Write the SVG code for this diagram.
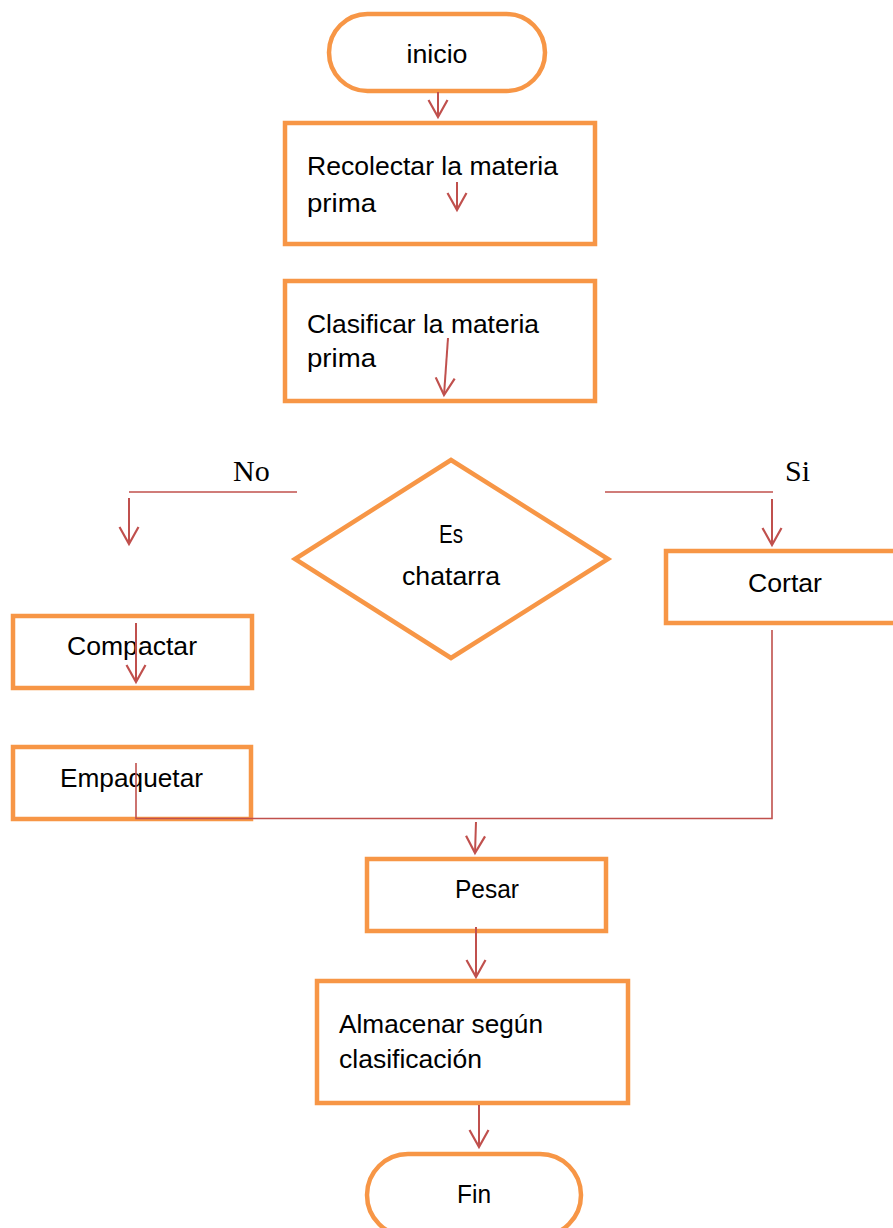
<svg xmlns="http://www.w3.org/2000/svg" width="893" height="1228" viewBox="0 0 893 1228">
<style>
.box{fill:#fff;stroke:#F79646;stroke-width:4.5}
.t{font-family:"Liberation Sans",Arial,sans-serif;font-size:26px;fill:#000}
.c{text-anchor:middle}
.s{font-family:"Liberation Serif","Times New Roman",serif;font-size:30px;fill:#000}
.ln{fill:none;stroke:#C0504D;stroke-width:2}
.hl{fill:none;stroke:#C0504D;stroke-width:1.6}
</style>
<defs>
<marker id="arr" markerUnits="userSpaceOnUse" viewBox="-20 -12 24 24" refX="0" refY="0" markerWidth="24" markerHeight="24" orient="auto">
<path d="M-17,-9.5 L0,0 L-17,9.5" fill="none" stroke="#C0504D" stroke-width="2.2"/>
</marker>
</defs>
<rect width="893" height="1228" fill="#fff"/>
<g id="inicio"><rect class="box" x="329" y="14" width="216" height="77" rx="38.5"/><text class="t c" x="437" y="63" textLength="61" lengthAdjust="spacingAndGlyphs">inicio</text></g>
<g id="recolectar"><rect class="box" x="285" y="123" width="310" height="121"/><text class="t" x="307" y="175" textLength="251" lengthAdjust="spacingAndGlyphs">Recolectar la materia</text><text class="t" x="307" y="212" textLength="69" lengthAdjust="spacingAndGlyphs">prima</text></g>
<g id="clasificar"><rect class="box" x="285" y="281" width="310" height="120"/><text class="t" x="307" y="333" textLength="232" lengthAdjust="spacingAndGlyphs">Clasificar la materia</text><text class="t" x="307" y="367" textLength="69" lengthAdjust="spacingAndGlyphs">prima</text></g>
<g id="decision"><polygon class="box" points="451,460 608,559 451,658 295,559"/><text class="t c" x="451" y="543" textLength="24" lengthAdjust="spacingAndGlyphs">Es</text><text class="t c" x="451" y="585" textLength="98" lengthAdjust="spacingAndGlyphs">chatarra</text></g>
<g id="compactar"><rect class="box" x="13" y="616" width="239" height="72"/><text class="t c" x="132" y="655" textLength="130" lengthAdjust="spacingAndGlyphs">Compactar</text></g>
<g id="empaquetar"><rect class="box" x="13" y="747" width="238" height="72"/><text class="t c" x="131.5" y="787" textLength="143" lengthAdjust="spacingAndGlyphs">Empaquetar</text></g>
<g id="cortar"><rect class="box" x="666" y="551" width="240" height="72"/><text class="t c" x="785" y="592" textLength="74" lengthAdjust="spacingAndGlyphs">Cortar</text></g>
<g id="pesar"><rect class="box" x="367" y="859" width="239" height="72"/><text class="t c" x="487" y="898" textLength="64" lengthAdjust="spacingAndGlyphs">Pesar</text></g>
<g id="almacenar"><rect class="box" x="317" y="981" width="311" height="122"/><text class="t" x="339" y="1033" textLength="204" lengthAdjust="spacingAndGlyphs">Almacenar según</text><text class="t" x="339" y="1068" textLength="143" lengthAdjust="spacingAndGlyphs">clasificación</text></g>
<g id="fin"><rect class="box" x="367" y="1154" width="214" height="82" rx="41"/><text class="t c" x="474" y="1203" textLength="34" lengthAdjust="spacingAndGlyphs">Fin</text></g>
<g id="labels"><text class="s" x="233" y="481">No</text><text class="s" x="785" y="481">Si</text></g>
<g id="connectors">
<line class="ln" x1="438" y1="92" x2="438" y2="117" marker-end="url(#arr)"/>
<line class="ln" x1="457" y1="182" x2="457" y2="210" marker-end="url(#arr)"/>
<line class="ln" x1="448" y1="338" x2="444" y2="395" marker-end="url(#arr)"/>
<line class="hl" x1="129" y1="492" x2="297" y2="492"/>
<line class="ln" x1="129" y1="498" x2="129" y2="544" marker-end="url(#arr)"/>
<line class="hl" x1="605" y1="492" x2="773" y2="492"/>
<line class="ln" x1="772" y1="499" x2="772" y2="545" marker-end="url(#arr)"/>
<line class="ln" x1="136" y1="623" x2="136" y2="682" marker-end="url(#arr)"/>
<polyline class="hl" points="136,763 136,818.5 772,818.5 772,630"/>
<line class="ln" x1="476" y1="822" x2="475" y2="853" marker-end="url(#arr)"/>
<line class="ln" x1="476" y1="927" x2="476" y2="977" marker-end="url(#arr)"/>
<line class="ln" x1="479" y1="1105" x2="479" y2="1147" marker-end="url(#arr)"/>
</g>
</svg>
